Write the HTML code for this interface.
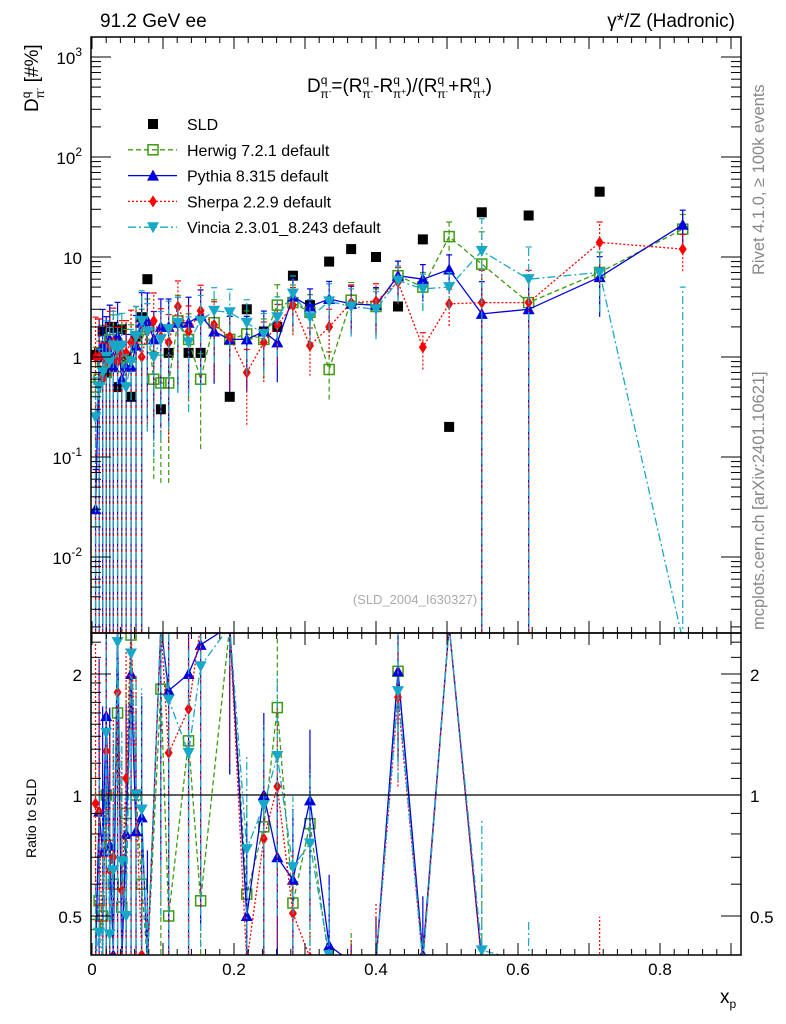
<!DOCTYPE html>
<html><head><meta charset="utf-8"><style>
html,body{margin:0;padding:0;background:#fff;overflow:hidden;width:786px;height:1024px;}
svg{display:block;}
svg text{font-family:"Liberation Sans",sans-serif;}
</style></head><body>
<svg id="c" width="786" height="1024" xmlns="http://www.w3.org/2000/svg">
<defs>
<clipPath id="cm"><rect x="91" y="37" width="650" height="596"/></clipPath>
<clipPath id="cr"><rect x="91" y="633" width="650" height="322"/></clipPath>
</defs>
<text x="100" y="27" font-size="19">91.2 GeV ee</text>
<text x="735" y="27" font-size="19" text-anchor="end">γ*/Z (Hadronic)</text>
<text transform="translate(764,275) rotate(-90)" font-size="16.5" fill="#888">Rivet 4.1.0, ≥ 100k events</text>
<text transform="translate(764,630) rotate(-90)" font-size="16.5" fill="#888">mcplots.cern.ch [arXiv:2401.10621]</text>
<text transform="translate(38,112) rotate(-90)" font-size="19">D<tspan font-size="12" dy="-8">q</tspan><tspan font-size="12" dx="-7" dy="14">π</tspan><tspan font-size="8" dy="-4">-</tspan><tspan dy="-2" font-size="19"> [#%]</tspan></text>
<text x="307" y="92" font-size="19">D<tspan font-size="12" dy="-8">q</tspan><tspan font-size="12" dx="-7" dy="14">π</tspan><tspan font-size="8" dy="-4">-</tspan><tspan dy="-2">=(R</tspan><tspan font-size="12" dy="-8">q</tspan><tspan font-size="12" dx="-7" dy="14">π</tspan><tspan font-size="8" dy="-4">-</tspan><tspan dy="-2">-R</tspan><tspan font-size="12" dy="-8">q</tspan><tspan font-size="12" dx="-7" dy="14">π</tspan><tspan font-size="8" dy="-4">+</tspan><tspan dy="-2">)/(R</tspan><tspan font-size="12" dy="-8">q</tspan><tspan font-size="12" dx="-7" dy="14">π</tspan><tspan font-size="8" dy="-4">-</tspan><tspan dy="-2">+R</tspan><tspan font-size="12" dy="-8">q</tspan><tspan font-size="12" dx="-7" dy="14">π</tspan><tspan font-size="8" dy="-4">+</tspan><tspan dy="-2">)</tspan></text>
<text x="415" y="604" font-size="13" fill="#aaa" text-anchor="middle">(SLD_2004_I630327)</text>
<text transform="translate(36,858) rotate(-90)" font-size="14">Ratio to SLD</text>
<text x="720" y="1003" font-size="19">x<tspan font-size="12" dy="5">p</tspan></text>
<g id="g"></g>
</svg>
<script>
const xs=[0.005,0.010,0.015,0.020,0.025,0.030,0.036,0.042,0.048,0.055,0.062,0.070,0.078,0.087,0.097,0.108,0.121,0.136,0.153,0.172,0.194,0.218,0.242,0.261,0.283,0.307,0.334,0.365,0.400,0.431,0.466,0.503,0.549,0.615,0.715,0.832];
const sld=[1.05,1.1,1.8,0.7,2.0,2.0,0.5,1.9,1.0,0.4,1.6,2.5,6.0,0,0.3,1.1,0,1.1,1.1,0,0.4,3.0,1.8,2.0,6.5,3.3,9,12,10,3.2,15,0.2,28,26,45,0];
const herwig=[0.5,0.6,0.9,0.7,1.5,1.2,0.8,1.0,0.9,1.0,1.6,1.5,2.0,0.6,0.55,0.55,2.3,1.5,0.6,2.2,1.5,1.7,1.5,3.3,3.5,2.8,0.75,3.7,3.2,6.5,5,16,8.5,3.5,7,19];
const pythia=[0.03,1.0,1.3,1.1,1.5,0.8,1.6,0.6,0.8,0.8,1.3,2.2,2.3,1.5,2.0,2.0,2.2,2.2,2.6,1.8,1.5,1.5,1.8,1.4,4.0,3.2,3.8,3.4,3.3,6.5,6.0,7.5,2.7,3.0,6.3,21];
const sherpa=[1.0,1.0,0.6,0.9,1.3,1.4,0.9,1.1,1.1,1.4,1.6,1.0,1.8,2.3,1.6,1.4,3.2,1.8,2.9,2.1,1.6,0.7,1.4,2.1,3.3,1.3,2.0,3.5,3.6,5.6,1.25,3.4,3.5,3.5,14,12];
const vincia=[0.25,0.5,0.7,1.0,0.9,1.3,1.2,1.3,0.5,0.9,1.6,2.3,1.8,1.0,1.5,1.9,2.2,1.4,2.3,2.9,2.8,2.2,1.7,2.5,4.3,2.5,3.6,3.2,3.0,5.8,4.8,5.0,11.5,6.0,7.0,0];
const relErr=[1.5,1.4,1.3,1.3,1.2,1.2,1.2,1.1,1.1,1.1,1.0,1.0,0.9,0.9,0.9,0.9,0.8,0.8,0.8,0.7,0.7,0.7,0.6,0.6,0.5,0.5,0.5,0.5,0.5,0.4,0.4,0.4,1.1,1.1,0.6,0.4];
const xTicks=[0,0.2,0.4,0.6,0.8];
const yExp=[-2,-1,0,1,2,3];
const rTicks=[0.5,1,2];

const X=v=>92+v*710;
const Y=v=>357-100*Math.log10(v);
const R=v=>795-121*Math.log2(v);
const cl=(y,a,b)=>Math.max(a,Math.min(b,y));
const NS='http://www.w3.org/2000/svg';
const g=document.getElementById('g');
function el(t,a,p){const e=document.createElementNS(NS,t);for(const k in a)e.setAttribute(k,a[k]);(p||g).appendChild(e);return e;}
const gm=el('g',{'clip-path':'url(#cm)'});


const gr=el('g',{'clip-path':'url(#cr)'});


const Yc=v=>v>0?cl(Y(v),30,640):640;
const Rc=v=>v>0?cl(R(v),626,962):962;

function marker(kind,x,y,col,p){
  let m;
  if(kind==='sq') m=el('rect',{x:x-5,y:y-5,width:10,height:10,fill:'#000'},p);
  if(kind==='osq') m=el('rect',{x:x-5,y:y-5,width:10,height:10,fill:'none',stroke:col,'stroke-width':1.5},p);
  if(kind==='tu') m=el('path',{d:`M${x} ${y-6}L${x+6} ${y+5}L${x-6} ${y+5}Z`,fill:col},p);
  if(kind==='td') m=el('path',{d:`M${x} ${y+6}L${x+6} ${y-5}L${x-6} ${y-5}Z`,fill:col},p);
  if(kind==='dm') m=el('path',{d:`M${x} ${y-6}L${x+4} ${y}L${x} ${y+6}L${x-4} ${y}Z`,fill:col},p);
  return m;
}
const series=[
 {name:'herwig',v:herwig,col:'#3f9a10',dash:'5,3',mk:'osq'},
 {name:'pythia',v:pythia,col:'#0000e0',dash:'',mk:'tu'},
 {name:'sherpa',v:sherpa,col:'#ff0000',dash:'2,2',mk:'dm'},
 {name:'vincia',v:vincia,col:'#17a8c8',dash:'8,3,2,3',mk:'td'}];

xs.forEach((x,i)=>{const m=marker('sq',X(x),Yc(sld[i]),'#000',gm);

});

series.forEach(s=>{
  const sg=el('g',{},gm);
  
  
  el('path',{d:xs.map((x,i)=>(i?'L':'M')+X(x)+' '+Yc(s.v[i])).join(''),fill:'none',stroke:s.col,'stroke-width':1.3,'stroke-dasharray':s.dash},sg);
  xs.forEach((x,i)=>{const v=s.v[i],e=v>0?v*relErr[i]:5;
    const lo=v-e>0?Yc(v-e):640,hi=Yc(v+e);
    el('line',{x1:X(x),x2:X(x),y1:lo,y2:hi,stroke:s.col,'stroke-width':1.2,'stroke-dasharray':s.dash},sg);
    el('line',{x1:X(x)-3,x2:X(x)+3,y1:hi,y2:hi,stroke:s.col,'stroke-width':1.2},sg);
    const m=marker(s.mk,X(x),Yc(v),s.col,sg);
    
    
  });
  const rg=el('g',{},gr);
  
  
  let d='';
  xs.forEach((x,i)=>{if(sld[i]>0){const r=s.v[i]/sld[i];d+=(d?'L':'M')+X(x)+' '+Rc(r);
    const e=Math.max(r*relErr[i],0.0001);const lo=r-e>0?Rc(r-e):962;
    el('line',{x1:X(x),x2:X(x),y1:lo,y2:Rc(r+e),stroke:s.col,'stroke-width':1.2,'stroke-dasharray':s.dash},rg);
    if(r>0){const m=marker(s.mk,X(x),Rc(r),s.col,rg);
    
    }}});
  el('path',{d:d,fill:'none',stroke:s.col,'stroke-width':1.3,'stroke-dasharray':s.dash},rg);
});
el('line',{x1:91,x2:741,y1:R(1),y2:R(1),stroke:'#000','stroke-width':1.2});

const f1=el('rect',{x:91,y:37,width:650,height:596,fill:'none',stroke:'#000','stroke-width':1.5});


const f2=el('rect',{x:91,y:633,width:650,height:322,fill:'none',stroke:'#000','stroke-width':1.5});



for(let k=0;k<=45;k++){const v=k*0.02,x=X(v);if(x>741)break;const big=k%5===0;
 [37,633].forEach(y0=>el('line',{x1:x,x2:x,y1:y0,y2:y0+(big?12:6),stroke:'#000'}));
 [633,955].forEach(y0=>el('line',{x1:x,x2:x,y1:y0,y2:y0-(big?12:6),stroke:'#000'}));}
xTicks.forEach(v=>{const t=el('text',{x:X(v),y:975,'font-size':17,'text-anchor':'middle'});t.textContent=v===0?'0':v.toFixed(1);

});
for(let e=-3;e<=3;e++)for(let m=1;m<10;m++){const v=m*Math.pow(10,e),y=Y(v);if(y<37||y>633)continue;const big=m===1;
 el('line',{x1:91,x2:91+(big?20:10),y1:y,y2:y,stroke:'#000'});el('line',{x1:741,x2:741-(big?20:10),y1:y,y2:y,stroke:'#000'});}
yExp.forEach(e=>{const y=Y(Math.pow(10,e));const t=el('text',{x:82,y:y+7,'font-size':17,'text-anchor':'end'});
 if(e===0)t.textContent='1';else if(e===1)t.textContent='10';else{t.textContent='10';const s=el('tspan',{'font-size':12,dy:-8},t);s.textContent=String(e);}

});
[0.4,0.5,0.6,0.7,0.8,0.9,1,2].forEach(v=>{const y=R(v),big=(v===0.5||v===1||v===2);
 el('line',{x1:91,x2:91+(big?20:10),y1:y,y2:y,stroke:'#000'});el('line',{x1:741,x2:741-(big?20:10),y1:y,y2:y,stroke:'#000'});});
[1.1,1.2,1.3,1.4,1.5,1.6,1.7,1.8,1.9,2.2,2.4].forEach(v=>{const y=R(v);el('line',{x1:91,x2:101,y1:y,y2:y,stroke:'#000'});el('line',{x1:741,x2:731,y1:y,y2:y,stroke:'#000'});});
rTicks.forEach(v=>{[[82,'end'],[750,'start']].forEach(([x,a])=>{const t=el('text',{x:x,y:R(v)+7,'font-size':17,'text-anchor':a});t.textContent=String(v);

});});

const leg=el('g',{});


const labels=['SLD','Herwig 7.2.1 default','Pythia 8.315 default','Sherpa 2.2.9 default','Vincia 2.3.01_8.243 default'];
labels.forEach((L,i)=>{const y=124+i*25.8;const e=el('g',{},leg);
 
 
 if(i===0)marker('sq',153,y,'#000',e);else{const s=series[i-1];el('line',{x1:128,x2:177,y1:y,y2:y,stroke:s.col,'stroke-width':1.3,'stroke-dasharray':s.dash},e);marker(s.mk,153,y,s.col,e);}
 const t=el('text',{x:187,y:y+6,'font-size':16},e);t.textContent=L;});
</script>
</body></html>
